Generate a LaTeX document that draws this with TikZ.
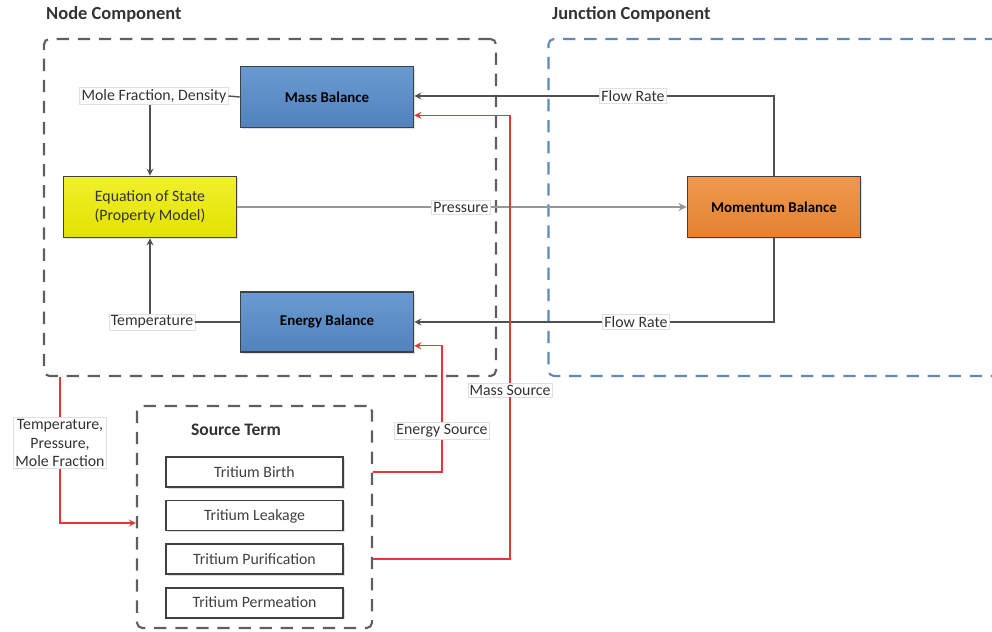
\documentclass[tikz,border=0pt]{standalone}
\usepackage{fontspec}
\setmainfont{Carlito}
\usetikzlibrary{arrows, positioning, calc, shadows}
\definecolor{boxline}{RGB}{64,64,64}
\definecolor{flowgray}{RGB}{80,80,80}
\definecolor{pressgray}{RGB}{150,150,150}
\definecolor{srcred}{RGB}{230,55,55}
\definecolor{groupgray}{RGB}{95,95,95}
\definecolor{groupblue}{RGB}{96,138,182}
\definecolor{massTop}{RGB}{106,154,208}
\definecolor{massBot}{RGB}{80,130,190}
\definecolor{eosTop}{RGB}{240,240,45}
\definecolor{eosBot}{RGB}{226,226,0}
\definecolor{momTop}{RGB}{238,152,78}
\definecolor{momBot}{RGB}{228,130,50}
\tikzstyle{balance} = [rectangle, minimum width=3.46cm, minimum height=1.22cm, text centered, draw=boxline, line width=0.9pt, font=\fontsize{8.5}{10}\selectfont\bfseries, drop shadow={opacity=0.25, shadow xshift=1pt, shadow yshift=-1pt}]
\tikzstyle{tritium} = [rectangle, minimum width=3.54cm, minimum height=0.6cm, text height=1.6ex, text depth=0.4ex, draw=boxline, line width=0.9pt, text=black!75, fill=white, drop shadow={opacity=0.25, shadow xshift=1pt, shadow yshift=-1pt}]
\tikzstyle{group} = [rectangle, dash pattern=on 7pt off 5pt, line width=1.2pt, rounded corners=3pt]
\tikzstyle{title} = [font=\fontsize{10.5}{12}\selectfont\bfseries, text=black!80]
\tikzstyle{tag} = [fill=white, draw=black!12, inner sep=1pt, text=black!80]
\tikzstyle{line} = [line width=0.8pt, draw=flowgray]
\tikzstyle{arrow} = [line width=0.8pt, ->, >=stealth, draw=flowgray]
\tikzstyle{srcline} = [line width=0.8pt, draw=srcred]
\tikzstyle{redarrow} = [line width=0.8pt, ->, >=stealth, draw=srcred]

\begin{document}
\begin{tikzpicture}[x=0.02cm, y=-0.02cm, font=\fontsize{9}{10.5}\selectfont]
\clip (0,0) rectangle (992,632);

% Groups
\node (nodebox) [group, draw=groupgray, minimum width=9.04cm, minimum height=6.74cm] at (270,207.5) {};
\node (junctionbox) [group, draw=groupblue, minimum width=9.5cm, minimum height=6.74cm] at (786,207.5) {};
\node (source) [group, draw=groupgray, minimum width=4.7cm, minimum height=4.44cm] at (254.5,517) {};
\node [title, anchor=west] at (40,14) {Node Component};
\node [title, anchor=west] at (546,14) {Junction Component};
\node [title, font=\fontsize{10}{12}\selectfont\bfseries] at (236,430) {Source Term};

% Blocks
\node (mass) [balance, top color=massTop, bottom color=massBot] at (327,97) {Mass Balance};
\node (energy) [balance, top color=massTop, bottom color=massBot, minimum height=1.2cm] at (327,322) {Energy Balance};
\node (eos) [balance, top color=eosTop, bottom color=eosBot, font=\fontsize{9}{11}\selectfont, align=center, text=black!80] at (150,207) {Equation of State\\(Property Model)};
\node (momentum) [balance, top color=momTop, bottom color=momBot] at (774,207) {Momentum Balance};

\node (birth) [tritium] at (254.5,472) {Tritium Birth};
\node (leakage) [tritium, below=0.24cm of birth] {Tritium Leakage};
\node (purif) [tritium, below=0.24cm of leakage] {Tritium Purification};
\node (permeation) [tritium, below=0.24cm of purif] {Tritium Permeation};

% Labels
\node (molefrac) [tag] at (154,96) {Mole Fraction, Density};
\node (temp) [tag] at (152,322) {Temperature};
\node (press) [tag] at (461,207) {Pressure};
\node (flowtop) [tag] at (633,96) {Flow Rate};
\node (flowbot) [tag] at (636,322) {Flow Rate};
\node (masssrc) [tag] at (510,390) {Mass Source};
\node (energysrc) [tag] at (442,431) {Energy Source};
\node (tpm) [tag, align=center] at (60,443) {Temperature,\\Pressure,\\Mole Fraction};

% Arrows
\draw [line] (mass.west) -- (molefrac.east);
\draw [arrow] (eos.north |- molefrac.south) -- (eos.north);
\draw [line] (energy.west) -- (temp.east);
\draw [arrow] (eos.south |- temp.north) -- (eos.south);
\draw [line, draw=pressgray, line width=1.1pt] (eos.east) -- (press.west);
\draw [arrow, draw=pressgray, line width=1.1pt] (press.east) -- (momentum.west);
\draw [line] (momentum.north) |- (flowtop.east);
\draw [arrow] (flowtop.west) -- (flowtop.west -| mass.east);
\draw [line] (momentum.south) |- (flowbot.east);
\draw [arrow] (flowbot.west) -- (flowbot.west -| energy.east);

\draw [srcline] (source.east |- birth.east) -| (energysrc.south);
\draw [redarrow] (energysrc.north) |- ($(energy.south east)+(0,-7)$);
\draw [srcline] (source.east |- purif.east) -| (masssrc.south);
\draw [redarrow] (masssrc.north) |- ($(mass.south east)+(0,-13)$);
\draw [srcline] (nodebox.south -| tpm.north) -- (tpm.north);
\draw [redarrow] (tpm.south) |- ($(source.west)+(0,6)$);

\end{tikzpicture}
\end{document}
